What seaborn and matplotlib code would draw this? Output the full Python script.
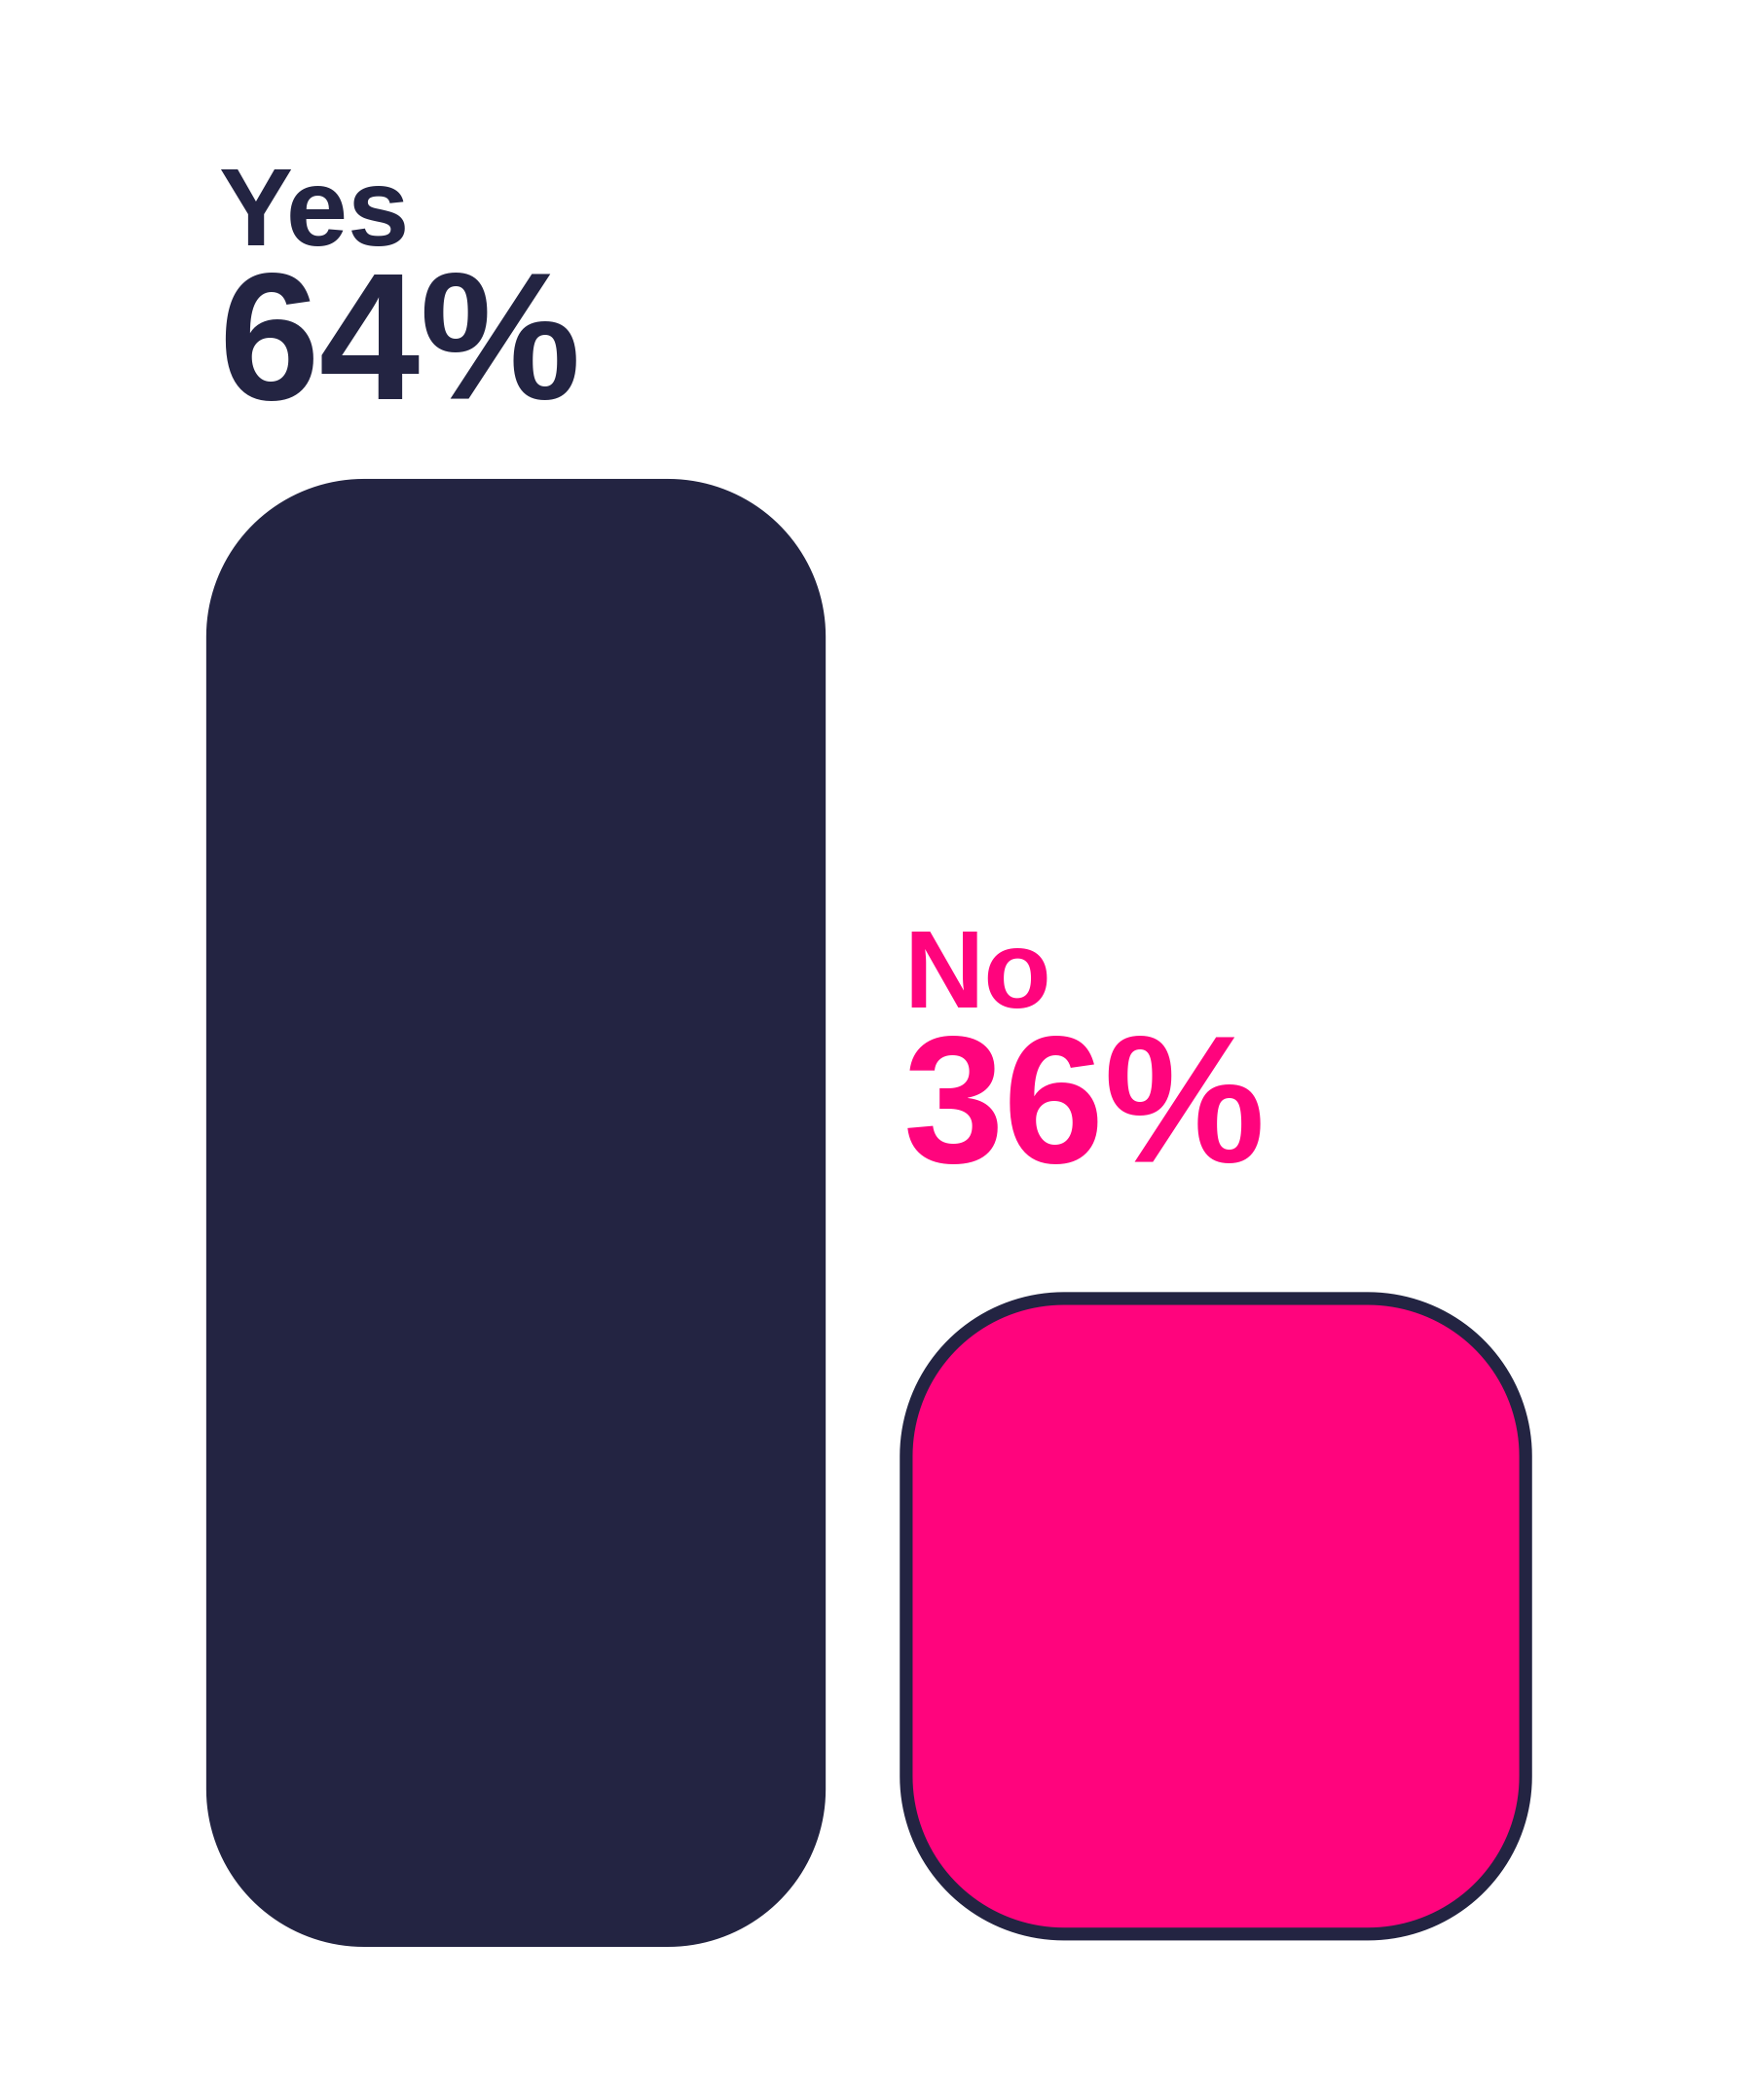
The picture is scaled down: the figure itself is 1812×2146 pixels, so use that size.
import matplotlib
matplotlib.use("Agg")
import matplotlib.pyplot as plt
from matplotlib.patches import PathPatch
from matplotlib.path import Path
import numpy as np
import seaborn as sns
import pandas as pd

# data
answers = ["Yes", "No"]
shares = [64, 36]
bar_colors = ["#232442", "#FF047D"]
label_colors = ["#232442", "#FF047D"]
edge_widths = [0, 9.5]

NAVY = "#232442"
BASE = 13.85          # visual baseline of the bars
TOP = 80.36

sns.set_theme(style="white")
plt.rcParams["font.family"] = ["Liberation Sans", "DejaVu Sans"]


def rounded_rect(x0, y0, x1, y1, rx, ry, n=40):
    # rectangle with circular (in pixels) corners, given radii in data units
    t = np.linspace(0, np.pi / 2, n)
    pts = []
    corners = [(x1 - rx, y1 - ry, 0), (x0 + rx, y1 - ry, np.pi / 2),
               (x0 + rx, y0 + ry, np.pi), (x1 - rx, y0 + ry, 1.5 * np.pi)]
    for cx, cy, start in corners:
        a = start + t
        pts.extend(zip(cx + rx * np.cos(a), cy + ry * np.sin(a)))
    pts.append(pts[0])
    codes = [Path.MOVETO] + [Path.LINETO] * (len(pts) - 2) + [Path.CLOSEPOLY]
    return Path(pts, codes)


df = pd.DataFrame({"answer": answers, "share": shares})

fig = plt.figure(figsize=(18.12, 21.46), dpi=100)
ax = fig.add_axes([0.0941, 146 / 2146, 0.7936, 2000 / 2146])

sns.barplot(data=df, x="answer", y="share", hue="answer", palette=bar_colors,
            width=0.885, legend=False, ax=ax)
ax.set_xlim(-0.5, 1.5)
ax.set_ylim(BASE, TOP)
ax.set_axis_off()

# swap the square bars for rounded ones
fig.canvas.draw()
p0 = ax.transData.transform((0, 0))
p1 = ax.transData.transform((1, 1))
px_x = p1[0] - p0[0]
px_y = p1[1] - p0[1]
radius_px = 162

bars = list(ax.patches)
for i, bar in enumerate(bars):
    x, w, h = bar.get_x(), bar.get_width(), bar.get_height()
    bar.remove()
    lw_px = edge_widths[i] * 100 / 72
    bottom = BASE + lw_px / px_y
    path = rounded_rect(x, bottom, x + w, h, radius_px / px_x, radius_px / px_y)
    ax.add_patch(PathPatch(
        path,
        facecolor=bar_colors[i],
        edgecolor=NAVY if edge_widths[i] > 0 else "none",
        linewidth=edge_widths[i],
        clip_on=False,
    ))

    # labels above each bar
    dx = 9 if i == 0 else -2
    dy = 59 if i == 0 else 101
    ax.annotate(f"{h:.0f}%", xy=(x, h), xytext=(dx, dy),
                textcoords="offset points", fontsize=134, fontweight="bold",
                color=label_colors[i], ha="left", va="baseline")
    ax.annotate(answers[i], xy=(x, h), xytext=(dx, dy + 114),
                textcoords="offset points", fontsize=82, fontweight="bold",
                color=label_colors[i], ha="left", va="baseline")

fig.savefig("out.png", dpi=100, facecolor="white")
